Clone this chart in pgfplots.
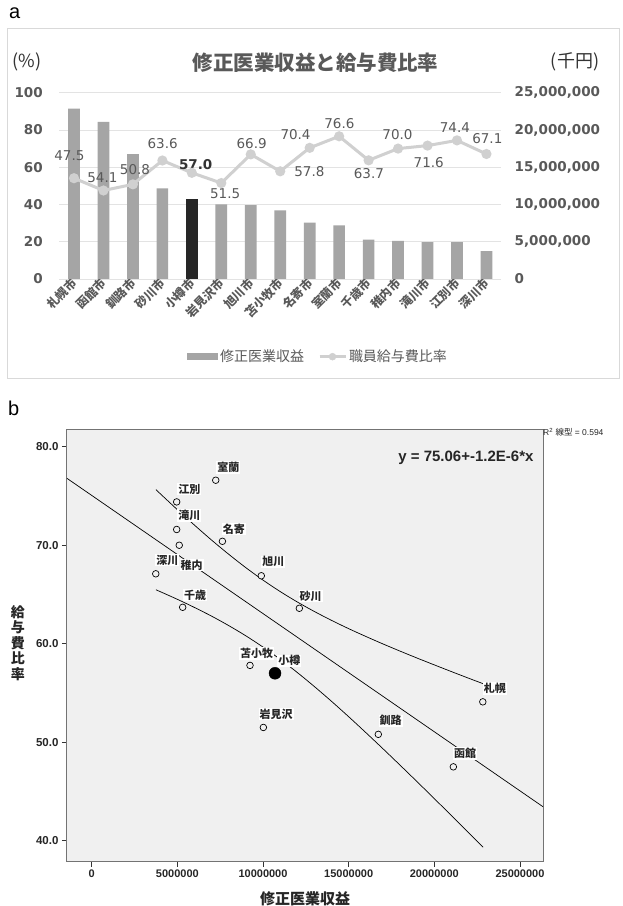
\documentclass[border=0pt]{standalone}
\usepackage{pgfplots}
\pgfplotsset{compat=1.18}
\usepackage{fontspec}
\setmainfont{DejaVu Sans}
\newfontfamily\cjk{Noto Sans CJK JP}
\newfontfamily\arial{Liberation Sans}
\newfontfamily\dejavu{DejaVu Sans}
\definecolor{barg}{HTML}{A5A5A5}
\definecolor{bark}{HTML}{262626}
\definecolor{lineg}{HTML}{D0D0D0}
\definecolor{txtg}{HTML}{595959}
\definecolor{gridg}{HTML}{E3E3E3}
\definecolor{bgb}{HTML}{F0F0F0}
\begin{document}
\begin{tikzpicture}
\useasboundingbox (0pt,0pt) rectangle (622pt,906pt);
\fill[white] (0pt,0pt) rectangle (622pt,906pt);
% ---------------- panel a ----------------
\draw[black!15, line width=0.8pt] (7.5pt,528pt) rectangle (619pt,878pt);
\node[font=\arial\fontsize{20}{20}\selectfont, anchor=base west, inner sep=0pt] at (9pt,887pt) {a};
\node[font=\cjk\bfseries\fontsize{20.5}{21}\selectfont, text=txtg] at (315.5pt,843pt) {修正医業収益と給与費比率};
\node[font=\cjk\fontsize{18}{18}\selectfont, text=black!80] at (27pt,844pt) {(\%)};
\node[font=\cjk\fontsize{18}{18}\selectfont, text=black!80] at (575pt,844pt) {(千円)};

\begin{axis}[
  at={(59.27pt,627pt)}, anchor=south west, scale only axis,
  width=441.9pt, height=186.3pt,
  xmin=-0.5, xmax=14.5, ymin=0, ymax=25000000,
  axis line style={draw=none}, tick style={draw=none},
  ymajorgrids, grid style={gridg, line width=0.9pt},
  ytick={0,5000000,10000000,15000000,20000000,25000000},
  yticklabel pos=right, scaled y ticks=false,
  yticklabel style={/pgf/number format/fixed, /pgf/number format/1000 sep={,},
    /pgf/number format/assume math mode=true,
    font=\dejavu\bfseries\fontsize{13.5}{14}\selectfont, text=txtg, anchor=west, xshift=10pt},
  xtick={0,...,14},
  xticklabels={札幌市,函館市,釧路市,砂川市,小樽市,岩見沢市,旭川市,苫小牧市,名寄市,室蘭市,千歳市,稚内市,滝川市,江別市,深川市},
  xticklabel style={rotate=45, anchor=east, font=\cjk\bfseries\fontsize{12}{12}\selectfont, text=txtg, inner sep=1pt, yshift=-2pt},
  legend style={draw=none, fill=none, font=\cjk\fontsize{14}{14}\selectfont, text=txtg,
    legend columns=2, /tikz/every even column/.append style={column sep=12pt},
    at={(0.5855,-0.417)}, anchor=center},
]
\addplot[ybar, bar width=11.7pt, bar shift=0pt, fill=barg, draw=none,
  legend image code/.code={\fill[barg] (0pt,-3.5pt) rectangle (31pt,3.5pt);}]
  coordinates {(0,22850000) (1,21100000) (2,16750000) (3,12150000) (5,10000000) (6,9900000) (7,9200000) (8,7550000) (9,7200000) (10,5300000) (11,5100000) (12,4950000) (13,4950000) (14,3750000)};
\addlegendentry{修正医業収益}
\addplot[ybar, bar width=11.7pt, bar shift=0pt, fill=bark, draw=none, forget plot]
  coordinates {(4,10750000)};
\addlegendimage{legend image code/.code={\draw[lineg, line width=3pt] (0pt,0pt) -- (26pt,0pt); \fill[lineg] (13pt,0pt) circle (3.5pt);}}
\addlegendentry{職員給与費比率}
\end{axis}

\begin{axis}[
  at={(59.27pt,627pt)}, anchor=south west, scale only axis,
  width=441.9pt, height=186.3pt,
  xmin=-0.5, xmax=14.5, ymin=0, ymax=100,
  axis line style={draw=none}, tick style={draw=none},
  xtick=\empty, ytick={0,20,40,60,80,100},
  yticklabel style={/pgf/number format/assume math mode=true,
    font=\dejavu\bfseries\fontsize{13.5}{14}\selectfont, text=txtg, anchor=east, xshift=-13pt},
  clip=false,
]
\addplot[lineg, line width=3pt, mark=*, mark size=3.5pt, mark options={fill=lineg, draw=lineg}]
  coordinates {(0,54.1) (1,47.5) (2,50.8) (3,63.6) (4,57.0) (5,51.5) (6,66.9) (7,57.8) (8,70.4) (9,76.6) (10,63.7) (11,70.0) (12,71.6) (13,74.4) (14,67.1)};
\begin{scope}[every node/.style={font=\dejavu\fontsize{13.5}{14}\selectfont, text=txtg}]
\node at (axis cs:-0.156,66.0) {47.5};
\node at (axis cs:0.964,54.6) {54.1};
\node at (axis cs:2.07,58.5) {50.8};
\node at (axis cs:3.01,72.5) {63.6};
\node[font=\dejavu\bfseries\fontsize{13.5}{14}\selectfont, text=black!80] at (axis cs:4.13,61.2) {57.0};
\node at (axis cs:5.13,45.6) {51.5};
\node at (axis cs:6.03,72.8) {66.9};
\node at (axis cs:7.52,77.3) {70.4};
\node at (axis cs:7.99,57.6) {57.8};
\node at (axis cs:9.01,83.2) {76.6};
\node at (axis cs:10.01,56.4) {63.7};
\node at (axis cs:10.98,77.3) {70.0};
\node at (axis cs:12.04,62.4) {71.6};
\node at (axis cs:12.93,81.4) {74.4};
\node at (axis cs:14.03,75.5) {67.1};
\end{scope}
\end{axis}

% ---------------- panel b ----------------
\node[font=\arial\fontsize{20}{20}\selectfont, anchor=base west, inner sep=0pt] at (8pt,490pt) {b};
\begin{axis}[
  at={(67pt,44.3pt)}, anchor=south west, scale only axis,
  width=476pt, height=431.7pt,
  xmin=-1442000, xmax=26343000, ymin=37.87, ymax=81.7,
  axis background/.style={fill=bgb},
  axis line style={draw=black!55, line width=1pt},
  xtick={0,5000000,10000000,15000000,20000000,25000000},
  ytick={40,50,60,70,80},
  tick align=outside, major tick length=5pt,
  tick style={black!80, line width=0.8pt},
  xtick pos=bottom, ytick pos=left,
  scaled x ticks=false,
  xticklabel style={/pgf/number format/fixed, /pgf/number format/1000 sep={},
    /pgf/number format/assume math mode=true,
    font=\arial\bfseries\fontsize{11}{11}\selectfont, text=black!85},
  yticklabel style={/pgf/number format/fixed, /pgf/number format/fixed zerofill,
    /pgf/number format/precision=1, /pgf/number format/assume math mode=true,
    font=\arial\bfseries\fontsize{11.5}{12}\selectfont, text=black!85},
  xlabel={修正医業収益},
  xlabel style={font=\cjk\bfseries\fontsize{15}{15}\selectfont, text=black!85,
    at={(axis description cs:0.5,-0.0864)}, anchor=center},
  ylabel={給\\与\\費\\比\\率},
  ylabel style={rotate=-90, align=center, font=\cjk\bfseries\fontsize{14}{15.5}\selectfont, text=black!85,
    at={(axis description cs:-0.103,0.5067)}, anchor=center},
]
\addplot[black, line width=0.7pt, mark=none] coordinates {(-1442000,76.79) (26343000,43.45)};
\addplot[black, line width=0.7pt, mark=none, smooth] coordinates {
 (3750000,75.64) (5000000,73.61) (6000000,72.04) (7000000,70.52) (8000000,69.08) (9000000,67.72) (10000000,66.46) (11000000,65.30) (12000000,64.24) (13000000,63.27) (14000000,62.37) (15000000,61.53) (16000000,60.74) (17000000,59.98) (18000000,59.25) (19000000,58.54) (20000000,57.85) (21000000,57.17) (22000000,56.50) (22850000,55.94)};
\addplot[black, line width=0.7pt, mark=none, smooth] coordinates {
 (3750000,65.48) (5000000,64.51) (6000000,63.68) (7000000,62.80) (8000000,61.84) (9000000,60.80) (10000000,59.66) (11000000,58.42) (12000000,57.08) (13000000,55.65) (14000000,54.15) (15000000,52.59) (16000000,50.98) (17000000,49.34) (18000000,47.67) (19000000,45.98) (20000000,44.27) (21000000,42.55) (22000000,40.82) (22850000,39.34)};
\addplot[only marks, mark=*, mark size=3.3pt, mark options={draw=black, fill=bgb, line width=0.7pt}]
 coordinates {(22830000,54.1) (21110000,47.5) (16730000,50.8) (12120000,63.6) (10020000,51.5) (9900000,66.9) (9240000,57.8) (7630000,70.4) (7240000,76.6) (5310000,63.7) (5110000,70.0) (4960000,71.6) (4960000,74.4) (3740000,67.1)};
\addplot[only marks, mark=*, mark size=6pt, mark options={draw=black, fill=black}]
 coordinates {(10700000,57.0)};
\begin{scope}[every node/.style={font=\cjk\bfseries\fontsize{11}{11}\selectfont, fill=white, inner sep=1pt, text=black!85}]
\node at (axis cs:7973000,77.91) {室蘭};
\node at (axis cs:5697000,75.68) {江別};
\node at (axis cs:5697000,73.0) {滝川};
\node at (axis cs:8306000,71.64) {名寄};
\node at (axis cs:4413000,68.50) {深川};
\node at (axis cs:5837000,67.99) {稚内};
\node at (axis cs:10600000,68.32) {旭川};
\node at (axis cs:6030000,64.94) {千歳};
\node at (axis cs:12783000,64.84) {砂川};
\node at (axis cs:9631000,59.03) {苫小牧};
\node at (axis cs:11534000,58.27) {小樽};
\node at (axis cs:10758000,52.86) {岩見沢};
\node at (axis cs:17453000,52.18) {釧路};
\node at (axis cs:21790000,48.87) {函館};
\node at (axis cs:23540000,55.47) {札幌};
\end{scope}
\end{axis}
\node[font=\arial\bfseries\fontsize{15}{15}\selectfont, anchor=east, text=black!85] at (537pt,448pt) {y = 75.06+-1.2E-6*x};
\node[font=\arial\fontsize{8.5}{9}\selectfont, anchor=west, inner sep=0pt, text=black!85] at (543pt,474pt) {R\textsuperscript{2} {\cjk 線型} = 0.594};
\end{tikzpicture}
\end{document}
